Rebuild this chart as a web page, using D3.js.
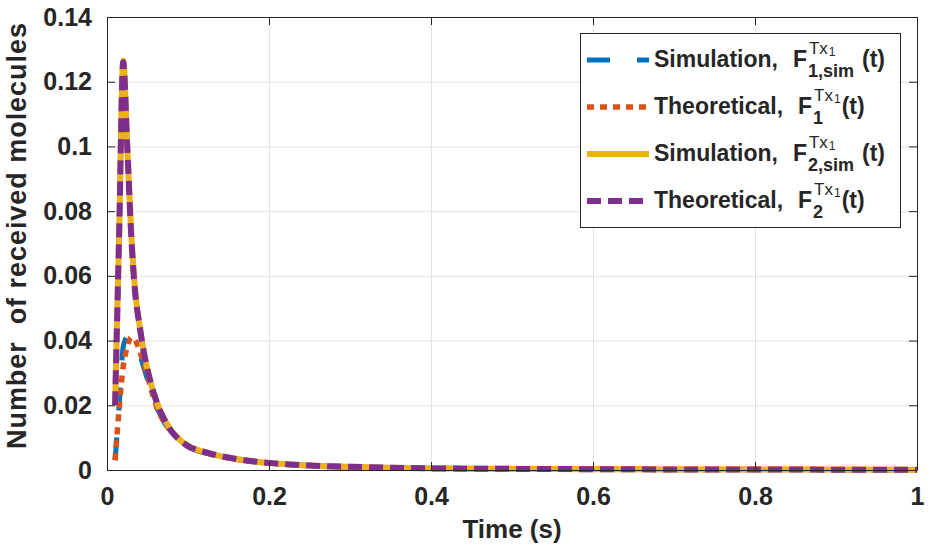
<!DOCTYPE html>
<html>
<head>
<meta charset="utf-8">
<script src="https://cdn.jsdelivr.net/npm/d3@7"></script>
<style>
  body { margin: 0; background: #fff; }
  svg text { font-family: "Liberation Sans", Arial, sans-serif; font-weight: bold; fill: #262626; }
</style>
</head>
<body>
<svg id="chart" width="938" height="546"></svg>
<script>
// Données
const timeS = [0.01, 0.015, 0.02, 0.025, 0.03, 0.035, 0.04, 0.045, 0.05, 0.055, 0.06, 0.065, 0.07, 0.08, 0.09, 0.1,
  0.12, 0.14, 0.16, 0.18, 0.2, 0.25, 0.3, 0.35, 0.4, 0.5, 0.6, 0.7, 0.8, 0.9, 1.0];
const f1Sim = [0.003, 0.020, 0.038, 0.041, 0.040, 0.038, 0.036, 0.032, 0.028, 0.024, 0.020, 0.0175, 0.015, 0.0115, 0.009, 0.0072,
  0.0053, 0.0041, 0.0032, 0.0026, 0.0021, 0.0013, 0.0009, 0.00065, 0.0005, 0.00033, 0.00024, 0.00018, 0.00014, 0.00011, 0.0001];
const f1Theo = [0.003, 0.019, 0.032, 0.038, 0.041, 0.040, 0.037, 0.033, 0.029, 0.0245, 0.0205, 0.0175, 0.015, 0.0118, 0.0094, 0.0074,
  0.0054, 0.0042, 0.0033, 0.0026, 0.0021, 0.0013, 0.0009, 0.00065, 0.0005, 0.00033, 0.00024, 0.00018, 0.00014, 0.00011, 0.0001];
const f2Sim = [0.020, 0.073, 0.1265, 0.100, 0.073, 0.055, 0.045, 0.037, 0.031, 0.026, 0.022, 0.0187, 0.016, 0.012, 0.0093, 0.0075,
  0.0056, 0.0043, 0.0034, 0.0027, 0.0022, 0.0014, 0.0010, 0.0007, 0.00052, 0.00035, 0.00025, 0.00019, 0.00015, 0.00012, 0.0001];
const f2Theo = [0.020, 0.073, 0.126, 0.100, 0.072, 0.054, 0.045, 0.037, 0.031, 0.026, 0.022, 0.0185, 0.016, 0.0118, 0.0092, 0.0074,
  0.0056, 0.0043, 0.0034, 0.0027, 0.0022, 0.0014, 0.0010, 0.0007, 0.0005, 0.00035, 0.00025, 0.00018, 0.00014, 0.00011, 0.0001];

const xTicks = [0, 0.2, 0.4, 0.6, 0.8, 1];
const xTickLabels = ["0", "0.2", "0.4", "0.6", "0.8", "1"];
const yTicks = [0, 0.02, 0.04, 0.06, 0.08, 0.1, 0.12, 0.14];
const yTickLabels = ["0", "0.02", "0.04", "0.06", "0.08", "0.1", "0.12", "0.14"];

const legendNames = ["Simulation,", "Theoretical,", "Simulation,", "Theoretical,"];
const legendSubs = ["1,sim", "1", "2,sim", "2"];

// Styles des séries (couleurs MATLAB par défaut)
const series = [
  { values: f1Sim,  color: "#0072BD", width: 5,   dash: "23,27" },
  { values: f1Theo, color: "#D95319", width: 5.5, dash: "7,6" },
  { values: f2Sim,  color: "#EDB120", width: 6,   dash: null },
  { values: f2Theo, color: "#7E2F8E", width: 6,   dash: "14,7" }
];

const margin = { top: 17, right: 21, bottom: 76, left: 107 };
const fullWidth = 938, fullHeight = 546;
const width = fullWidth - margin.left - margin.right;
const height = fullHeight - margin.top - margin.bottom;
const axisColor = '#262626';

const svg = d3.select('#chart');
const g = svg.append('g').attr('transform', `translate(${margin.left},${margin.top})`);

const x = d3.scaleLinear().domain([0, 1]).range([0, width]);
const y = d3.scaleLinear().domain([0, 0.14]).range([height, 0]);

// Grille
g.append('g')
  .attr('transform', `translate(0,${height})`)
  .call(d3.axisBottom(x).tickValues(xTicks).tickSize(-height).tickFormat(''))
  .call(a => a.select('.domain').remove())
  .selectAll('line').attr('stroke', '#e3e3e3');
g.append('g')
  .call(d3.axisLeft(y).tickValues(yTicks).tickSize(-width).tickFormat(''))
  .call(a => a.select('.domain').remove())
  .selectAll('line').attr('stroke', '#e3e3e3');

// Courbes
const line = d3.line()
  .x((d, i) => x(timeS[i]))
  .y(d => y(d))
  .curve(d3.curveMonotoneX);

series.forEach(s => {
  g.append('path')
    .datum(s.values)
    .attr('fill', 'none')
    .attr('stroke', s.color)
    .attr('stroke-width', s.width)
    .attr('stroke-dasharray', s.dash)
    .attr('stroke-linejoin', 'round')
    .attr('d', line);
});

// Axes (ticks vers l'intérieur, boîte complète)
const axes = g.append('g');
const xAxis = axes.append('g').attr('transform', `translate(0,${height})`)
  .call(d3.axisBottom(x).tickValues(xTicks).tickSizeInner(-8).tickSizeOuter(0).tickPadding(17)
    .tickFormat((d, i) => xTickLabels[i]));
const yAxis = axes.append('g')
  .call(d3.axisLeft(y).tickValues(yTicks).tickSizeInner(-8).tickSizeOuter(0).tickPadding(15)
    .tickFormat((d, i) => yTickLabels[i]));
axes.append('g')
  .call(d3.axisTop(x).tickValues(xTicks).tickSizeInner(-8).tickSizeOuter(0).tickFormat(''));
axes.append('g').attr('transform', `translate(${width},0)`)
  .call(d3.axisRight(y).tickValues(yTicks).tickSizeInner(-8).tickSizeOuter(0).tickFormat(''));

axes.selectAll('.domain, .tick line').attr('stroke', axisColor);
[xAxis, yAxis].forEach(a => a.selectAll('text')
  .attr('fill', axisColor)
  .style('font-size', '25px')
  .style('font-family', '"Liberation Sans", Arial, sans-serif')
  .style('font-weight', 'bold'));

// Titres des axes
svg.append('text')
  .attr('x', margin.left + width / 2).attr('y', 538)
  .attr('text-anchor', 'middle')
  .style('font-size', '26px')
  .text('Time (s)');

svg.append('text')
  .attr('transform', `translate(26,236) rotate(-90)`)
  .attr('text-anchor', 'middle')
  .attr('textLength', 426)
  .attr('lengthAdjust', 'spacing')
  .style('font-size', '27px')
  .attr('xml:space', 'preserve')
  .text('Number  of received molecules');

// Légende
const legend = svg.append('g');
legend.append('rect')
  .attr('x', 580.5).attr('y', 33.5).attr('width', 320).attr('height', 194)
  .attr('fill', '#fff').attr('stroke', axisColor).attr('stroke-width', 1);

series.forEach((s, i) => {
  const base = 67 + i * 47;
  legend.append('line')
    .attr('x1', 587).attr('x2', 649)
    .attr('y1', base - 7).attr('y2', base - 7)
    .attr('stroke', s.color)
    .attr('stroke-width', s.width)
    .attr('stroke-dasharray', s.dash);

  const name = legend.append('text')
    .attr('x', 654).attr('y', base)
    .style('font-size', '23px')
    .text(legendNames[i]);
  const fx = 654 + name.node().getComputedTextLength() + 15;

  legend.append('text').attr('x', fx).attr('y', base).style('font-size', '23px').text('F');

  const sup = legend.append('text').attr('x', fx + 16).attr('y', base - 13)
    .style('font-size', '17px').style('font-weight', 'normal').text('Tx');
  const supEnd = fx + 16 + sup.node().getComputedTextLength() + 1;
  const supSub = legend.append('text').attr('x', supEnd).attr('y', base - 11)
    .style('font-size', '12px').style('font-weight', 'normal').text('1');
  const supSubEnd = supEnd + supSub.node().getComputedTextLength();

  const sub = legend.append('text').attr('x', fx + 15).attr('y', base + 10)
    .style('font-size', '18px').text(legendSubs[i]);
  const subEnd = fx + 15 + sub.node().getComputedTextLength();

  const tx = Math.max(supSubEnd + 1, legendSubs[i].length > 1 ? subEnd + 8 : subEnd + 2);
  legend.append('text').attr('x', tx).attr('y', base).style('font-size', '23px').text('(t)');
});
</script>
</body>
</html>
